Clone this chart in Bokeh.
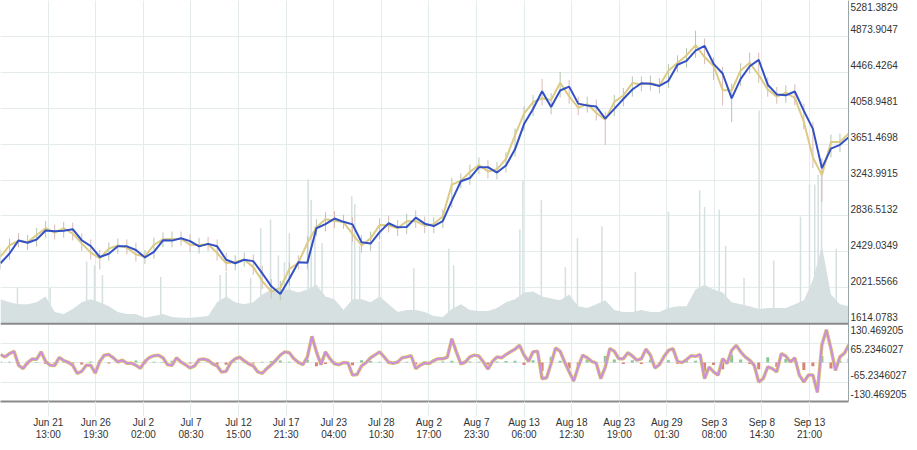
from bokeh.plotting import figure
from bokeh.models import Range1d, FixedTicker, Span
from bokeh.embed import file_html
from bokeh.resources import INLINE

# ---------------- data ----------------
# time axis: hours relative to "Jun 21 13:00"; one sample per day / per 12 h
t_day = [-127 + 24 * i for i in range(95)]
t_half = [-127 + 12 * j for j in range(189)]

ma_slow = [2300, 2410, 2559, 2532, 2570, 2671, 2664, 2670, 2686, 2561,
           2494, 2371, 2407, 2492, 2492, 2450, 2366, 2430, 2560, 2557,
           2584, 2551, 2491, 2520, 2492, 2340, 2300, 2340, 2324, 2186,
           2038, 1952, 2124, 2311, 2307, 2697, 2743, 2807, 2770, 2741,
           2539, 2524, 2653, 2754, 2708, 2712, 2818, 2749, 2722, 2779,
           3011, 3230, 3267, 3390, 3390, 3329, 3409, 3593, 3879, 4051,
           4251, 4073, 4260, 4304, 4111, 4090, 4078, 3941, 4051, 4164,
           4271, 4343, 4337, 4312, 4370, 4552, 4596, 4712, 4767, 4563,
           4453, 4170, 4392, 4535, 4607, 4326, 4216, 4205, 4249, 4029,
           3825, 3379, 3600, 3644, 3732]

ma_fast = [2374, 2504, 2554, 2537, 2620, 2697, 2647, 2697, 2636, 2525,
           2421, 2355, 2466, 2502, 2477, 2400, 2377, 2510, 2572, 2576,
           2576, 2510, 2506, 2516, 2416, 2300, 2315, 2342, 2256, 2098,
           1978, 2020, 2234, 2306, 2532, 2708, 2798, 2781, 2766, 2631,
           2502, 2582, 2734, 2730, 2697, 2777, 2779, 2726, 2744, 2834,
           3192, 3236, 3337, 3415, 3342, 3366, 3484, 3754, 3998, 4128,
           4172, 4152, 4348, 4194, 4066, 4106, 4007, 3930, 4131, 4204,
           4344, 4328, 4346, 4317, 4484, 4576, 4658, 4774, 4640, 4539,
           4266, 4260, 4488, 4574, 4436, 4271, 4191, 4235, 4177, 3904,
           3500, 3300, 3677, 3677, 3776]

high = [2450, 2580, 2640, 2620, 2700, 2780, 2740, 2770, 2760, 2640,
        2570, 2450, 2540, 2580, 2570, 2530, 2450, 2590, 2650, 2660,
        2660, 2630, 2590, 2600, 2570, 2420, 2390, 2420, 2400, 2270,
        2120, 2100, 2310, 2390, 2610, 2800, 2880, 2890, 2850, 2820,
        2620, 2660, 2810, 2840, 2790, 2860, 2900, 2830, 2820, 2910,
        3270, 3320, 3420, 3500, 3470, 3450, 3560, 3830, 4080, 4210,
        4390, 4230, 4470, 4380, 4190, 4190, 4160, 4020, 4210, 4290,
        4420, 4420, 4430, 4400, 4560, 4660, 4740, 4940, 4850, 4640,
        4530, 4340, 4570, 4690, 4690, 4410, 4300, 4320, 4330, 4110,
        3900, 3480, 3760, 3770, 3880]

low = [2230, 2340, 2480, 2450, 2490, 2590, 2570, 2590, 2560, 2440,
       2340, 2230, 2330, 2410, 2400, 2320, 2290, 2350, 2480, 2480,
       2500, 2430, 2410, 2440, 2330, 2210, 2220, 2260, 2170, 2010,
       1900, 1880, 2050, 2230, 2230, 2610, 2660, 2700, 2690, 2540,
       2420, 2440, 2570, 2650, 2610, 2630, 2700, 2640, 2640, 2700,
       2930, 3150, 3190, 3310, 3260, 3250, 3330, 3510, 3800, 3970,
       4090, 3990, 4180, 4110, 3980, 4010, 3920, 3640, 3970, 4080,
       4190, 4250, 4260, 4230, 4290, 4470, 4520, 4630, 4560, 4380,
       4090, 3900, 4310, 4450, 4350, 4190, 4110, 4120, 4090, 3820,
       3380, 3000, 3500, 3560, 3650]

volume = [250, 220, 200, 200, 220, 280, 120, 100, 150, 220,
          250, 220, 180, 120, 100, 100, 60, 80, 100, 70,
          60, 60, 70, 80, 220, 280, 220, 200, 220, 300,
          350, 350, 350, 320, 350, 400, 280, 250, 140, 250,
          250, 220, 280, 200, 120, 140, 140, 120, 80, 70,
          150, 200, 140, 130, 130, 160, 220, 250, 320, 330,
          280, 260, 240, 300, 180, 160, 200, 240, 140, 120,
          120, 140, 120, 120, 160, 180, 180, 350, 400, 350,
          320, 220, 200, 180, 150, 160, 160, 160, 200, 240,
          450, 800, 300, 200, 180]

spike_t = [-82, 5, 102, 123, 144, 299, 457, 473, 538, 565,
           591, 612, 628, 641, 691, 699, 709, 728, 807, 815,
           828, 880, 972, 1065, 1078, 1254, 1262, 1311, 1375, 1407,
           1472, 1561, 1649, 1732, 1745, 1784, 1801, 1850, 1890, 1929,
           2000, 2024, 2038, 2047, 2056, 2095]
spike_v = [370, 370, 640, 600, 500, 480, 500, 530, 470, 980,
           1070, 700, 630, 930, 1480, 1270, 1000, 830, 1310, 1230,
           800, 850, 570, 770, 600, 970, 1470, 1270, 580, 880,
           1000, 530, 1150, 1370, 1200, 1170, 800, 470, 2190, 650,
           1100, 1430, 1430, 1530, 1700, 770]

osc = [27, 19, 30, 38, -9, -20, 0, 12, 11, 36,
       4, -9, -10, 17, 7, 1, -9, -36, -29, -9,
       -9, -35, 4, 25, 27, 16, 2, 8, -2, -2,
       -9, -19, 4, 17, 23, 25, 16, -7, -9, 16,
       2, -7, -18, -11, 10, 12, 8, -4, -11, -32,
       -29, 0, 13, 18, 6, -4, -11, -31, -36, -20,
       -7, 8, 25, 36, 33, 13, 1, -7, 19, 88,
       36, -7, 36, 13, -4, -7, 0, -1, -42, -40,
       -11, 0, 16, 26, 36, 19, 1, -2, 2, 16,
       19, 23, -20, -9, -1, -3, 7, 13, 13, 18,
       80, 36, -4, 2, 19, 25, 22, 2, -22, 4,
       19, 16, 27, 36, 45, 58, 25, 4, 36, 38,
       -54, -51, -3, 49, 38, 2, -31, -62, -15, 25,
       16, 4, -2, -54, -15, 47, 38, 13, 13, 33,
       22, 8, 13, 45, 25, -18, -7, 20, 41, 47,
       4, 0, 10, 23, 21, 27, -54, -15, -31, -42,
       13, -3, 41, 58, 36, 19, 8, -9, -65, -54,
       -14, -20, -31, 30, 22, 2, 16, -42, -65, -42,
       -42, -100, 60, 110, 47, -26, 19, 32, 60]

hist = [4, 3, -3, -6, 2, -5, -3, 3, -4, -6,
        4, 9, -3, 2, -2, 7, -4, 3, 2, 6,
        4, -3, 3, 5, -6, -7, 3, 2, -3, 3,
        5, 7, 3, -5, 10, -12, -5, 4, -3, -9,
        8, 5, 3, -4, -3, 3, -6, 5, 3, 4,
        6, -8, 4, 3, -6, 4, 5, 6, -8, 8,
        -28, 20, 6, -20, -12, 10, -4, 22, 10, -5,
        8, -5, 10, -6, 8, -4, 5, 6, -30, -8,
        -22, 26, 10, -5, -22, 18, -15, 12, 8, -25,
        -12, 22, -20, 6, 14]

x_tick_hours = [126.5 * k for k in range(17)]
x_tick_labels = ["Jun 21\n13:00", "Jun 26\n19:30", "Jul 2\n02:00", "Jul 7\n08:30",
                 "Jul 12\n15:00", "Jul 17\n21:30", "Jul 23\n04:00", "Jul 28\n10:30",
                 "Aug 2\n17:00", "Aug 7\n23:30", "Aug 13\n06:00", "Aug 18\n12:30",
                 "Aug 23\n19:00", "Aug 29\n01:30", "Sep 3\n08:00", "Sep 8\n14:30",
                 "Sep 13\n21:00"]

price_ticks = [1614.0783, 2021.5566, 2429.0349, 2836.5132, 3243.9915,
               3651.4698, 4058.9481, 4466.4264, 4873.9047, 5281.3829]
price_labels = ["1614.0783", "2021.5566", "2429.0349", "2836.5132", "3243.9915",
                "3651.4698", "4058.9481", "4466.4264", "4873.9047", "5281.3829"]
osc_ticks = [-130.469205, -65.2346027, 0.0, 65.2346027, 130.469205]
osc_labels = ["-130.469205", "-65.2346027", "", "65.2346027", "130.469205"]

# ---------------- layout ----------------
W, H = 909, 442
FRAME_W = 849
LOW_FRAC = 78 / 402          # share of the frame height used by the lower panel

main_lo, main_hi = price_ticks[0], price_ticks[-1]
osc_lo, osc_hi = osc_ticks[0], osc_ticks[-1]
y_start = main_lo - (main_hi - main_lo) * LOW_FRAC / (1 - LOW_FRAC)
vol_top = 3320
vol_start = -vol_top * LOW_FRAC / (1 - LOW_FRAC)
osc_end = osc_lo + (osc_hi - osc_lo) / LOW_FRAC


def osc_to_price(v):
    return y_start + (v - osc_lo) / (osc_hi - osc_lo) * (main_lo - y_start)


FONT = "Liberation Sans"
GRID = "#e3ebeb"
SEP = "#8a8a8a"

p = figure(width=W, height=H, output_backend="svg", toolbar_location=None,
           x_range=Range1d(-127, 2127.7), y_range=Range1d(y_start, main_hi),
           y_axis_location="right",
           min_border_left=0, min_border_top=0,
           min_border_right=W - FRAME_W, min_border_bottom=0)
p.extra_y_ranges = {"vol": Range1d(vol_start, vol_top),
                    "osc": Range1d(osc_lo, osc_end)}
p.outline_line_color = None
p.background_fill_color = "white"

# volume
p.varea(x=t_day, y1=0, y2=volume, fill_color="#d6e0e1", y_range_name="vol")
p.segment(x0=spike_t, y0=[0] * len(spike_t), x1=spike_t, y1=spike_v,
          line_color="#d6e0e1", line_width=1.5, y_range_name="vol")

# candles (daily ranges)
candle_colors = ["#b5c6b0" if f >= s else "#d8bab4" for f, s in zip(ma_fast, ma_slow)]
p.segment(x0=t_day, y0=low, x1=t_day, y1=high, line_color=candle_colors, line_width=1)

# moving averages
p.line(t_day, ma_fast, line_color="#dccb85", line_width=2)
p.line(t_day, ma_slow, line_color="#3350c4", line_width=2)

# lower indicator
hist_colors = ["#8cc79a" if v >= 0 else "#d98378" for v in hist]
p.vbar(x=t_day, top=hist, bottom=0, width=8, fill_color=hist_colors,
       line_color=None, y_range_name="osc")
p.line(t_half, osc, line_color="#d8c565", line_width=3.5, y_range_name="osc")
p.line(t_half, osc, line_color="#cc8fe0", line_width=2, y_range_name="osc")

# panel separator
p.add_layout(Span(location=main_lo, dimension="width", line_color=SEP, line_width=2))

# x axis
xt = FixedTicker(ticks=x_tick_hours)
p.xaxis.ticker = xt
p.xgrid.ticker = xt
p.xaxis.major_label_overrides = dict(zip(x_tick_hours, x_tick_labels))
p.xaxis.axis_label = None
p.xaxis.major_tick_out = 15
p.xaxis.major_tick_in = 0
p.xaxis.major_tick_line_color = GRID
p.xaxis.minor_tick_line_color = None
p.xaxis.minor_tick_out = 0
p.xaxis.minor_tick_in = 0
p.xaxis.axis_line_color = SEP
p.xaxis.axis_line_width = 2
p.xaxis.major_label_standoff = 0
p.xaxis.major_label_text_font = FONT
p.xaxis.major_label_text_font_size = "10px"
p.xaxis.major_label_text_line_height = 1.1
p.xaxis.major_label_text_color = "#333333"

# y axis (price ticks + oscillator ticks on one right axis)
y_ticks = list(price_ticks) + [osc_to_price(v) for v in osc_ticks[:-1]]
y_labels = {}
for t, lab in zip(price_ticks, price_labels):
    y_labels[t] = lab + "\n"
y_labels[price_ticks[-1]] = "\n" + price_labels[-1]
y_labels[price_ticks[0]] = price_labels[0] + "\n" + osc_labels[-1]
for v, lab in zip(osc_ticks[:-1], osc_labels[:-1]):
    if v > 0:
        y_labels[osc_to_price(v)] = "\n" + lab
    elif v < 0:
        y_labels[osc_to_price(v)] = lab + "\n"
    else:
        y_labels[osc_to_price(v)] = lab
yt = FixedTicker(ticks=y_ticks)
p.yaxis.ticker = yt
p.ygrid.ticker = yt
p.yaxis.major_label_overrides = y_labels
p.yaxis.axis_label = None
p.yaxis.major_tick_out = 0
p.yaxis.major_tick_in = 0
p.yaxis.minor_tick_out = 0
p.yaxis.minor_tick_in = 0
p.yaxis.major_tick_line_color = None
p.yaxis.minor_tick_line_color = None
p.yaxis.axis_line_color = "#9aa5a7"
p.yaxis.major_label_standoff = 2
p.yaxis.major_label_text_font = FONT
p.yaxis.major_label_text_font_size = "10px"
p.yaxis.major_label_text_color = "#333333"

p.xgrid.grid_line_color = GRID
p.ygrid.grid_line_color = GRID

open("out.html", "w").write(file_html(p, INLINE))
